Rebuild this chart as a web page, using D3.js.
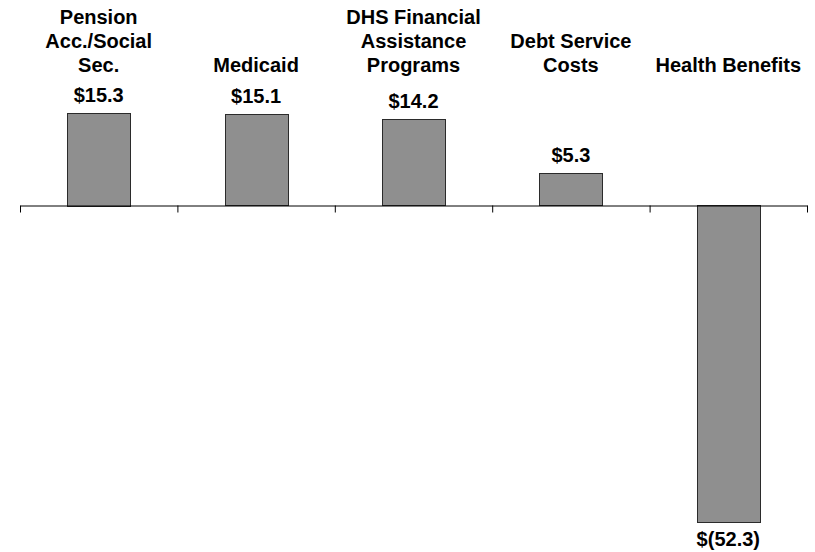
<!DOCTYPE html>
<html>
<head>
<meta charset="utf-8">
<script src="https://cdn.jsdelivr.net/npm/d3@7"></script>
<style>
  html, body { margin: 0; padding: 0; background: #fff; }
  svg { display: block; font-family: "Liberation Sans", Arial, Helvetica, sans-serif; }
</style>
</head>
<body>
<svg id="chart" width="815" height="552"></svg>
<script>
// Change by budget item, $ millions
const categories = [
  "Pension Acc./Social Sec.",
  "Medicaid",
  "DHS Financial Assistance Programs",
  "Debt Service Costs",
  "Health Benefits"
];
// Line breaks used for the category headers
const categoryLines = [
  ["Pension", "Acc./Social", "Sec."],
  ["Medicaid"],
  ["DHS Financial", "Assistance", "Programs"],
  ["Debt Service", "Costs"],
  ["Health Benefits"]
];
const values = [15.3, 15.1, 14.2, 5.3, -52.3];

const svg = d3.select("#chart");

const left = 20, right = 807;
const x = d3.scaleBand()
  .domain(categories)
  .range([left, right])
  .paddingInner(0.6)
  .paddingOuter(0.3);

const y = d3.scaleLinear()
  .domain([-52.3, 15.3])
  .range([521.7, 112.5]);

const fmt = v => v < 0 ? "$(" + d3.format(".1f")(-v) + ")" : "$" + d3.format(".1f")(v);

// Bars
svg.append("g")
  .selectAll("rect")
  .data(values)
  .join("rect")
  .attr("x", (d, i) => Math.round(x(categories[i])) + 0.5)
  .attr("width", Math.round(x.bandwidth()))
  .attr("y", d => Math.round(y(Math.max(0, d))) + 0.5)
  .attr("height", d => Math.round(Math.abs(y(d) - y(0))))
  .attr("fill", "#8f8f8f")
  .attr("stroke", "#2b2b2b")
  .attr("stroke-width", 1);

// Category axis along zero, ticks at category boundaries
const edge = d3.scaleLinear().domain([0, categories.length]).range([left, right]);
const axis = svg.append("g")
  .attr("transform", `translate(0,${Math.round(y(0)) + 0.5})`)
  .call(d3.axisBottom(edge)
    .tickValues(d3.range(categories.length + 1))
    .tickFormat("")
    .tickSizeInner(7)
    .tickSizeOuter(0));
axis.select(".domain").attr("stroke", "#000");
axis.selectAll(".tick line").attr("stroke", "#000");

// Value labels
svg.append("g")
  .selectAll("text")
  .data(values)
  .join("text")
  .attr("x", (d, i) => x(categories[i]) + x.bandwidth() / 2)
  .attr("y", d => d >= 0 ? y(d) - 11 : y(d) + 24)
  .attr("text-anchor", "middle")
  .attr("font-size", 20)
  .attr("font-weight", "bold")
  .attr("fill", "#000")
  .text(fmt);

// Category headers, bottom-aligned
const heads = svg.append("g")
  .selectAll("text")
  .data(categoryLines)
  .join("text")
  .attr("text-anchor", "middle")
  .attr("font-size", 20)
  .attr("font-weight", "bold")
  .attr("fill", "#000");
heads.each(function (lines, i) {
  const cx = x(categories[i]) + x.bandwidth() / 2;
  const n = lines.length;
  d3.select(this).selectAll("tspan")
    .data(lines)
    .join("tspan")
    .attr("x", cx)
    .attr("y", (l, j) => 72 - (n - 1 - j) * 24)
    .text(l => l);
});
</script>
</body>
</html>
